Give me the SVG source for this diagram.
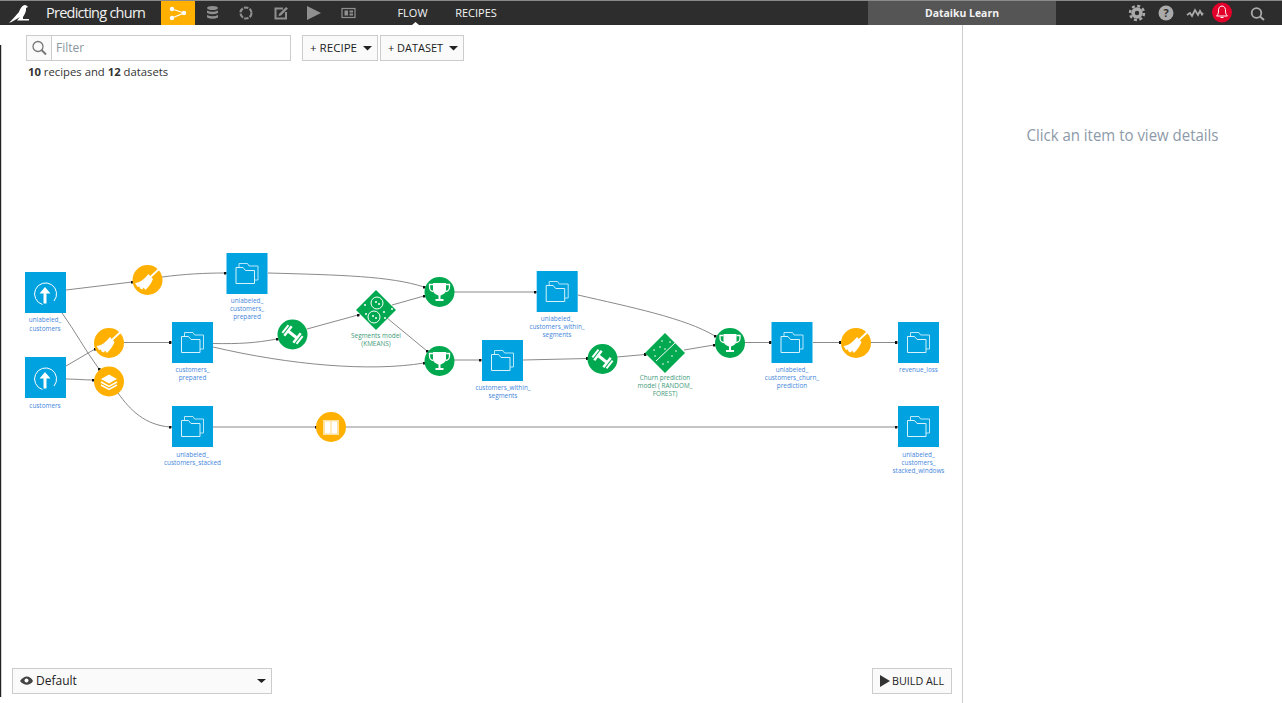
<svg xmlns="http://www.w3.org/2000/svg" width="1282" height="703" viewBox="0 0 1282 703">
<style>
text{font-family:"Open Sans","Noto Sans","Liberation Sans",sans-serif}
.lbl{font-size:6.4px;fill:#3f86dc;text-anchor:middle}
.mlbl{font-size:6.4px;fill:#3e9a78;text-anchor:middle}
.nav{font-size:11px;fill:#f4f4f4;text-anchor:middle}
.btn{fill:#fafafa;stroke:#ccc;stroke-width:1}
.btxt{font-size:11px;fill:#222}
.ic{fill:#8f8f8f}
.con{fill:none;stroke:#8a8a8a;stroke-width:1}
.sq{fill:#00a2df}
.ln{fill:none;stroke:#fff;stroke-width:1}
.wf{fill:#fff}
.ws{fill:none;stroke:#fff}
</style>
<defs>
<marker id="dot" viewBox="0 0 4 4" refX="2" refY="2" markerWidth="3" markerHeight="3" markerUnits="userSpaceOnUse"><rect width="4" height="4" rx="1" fill="#111"/></marker>
<g id="folder">
<rect width="41" height="41" class="sq"/>
<path class="ln" style="stroke:#b9e8fa" d="M12.500 14V10.500H21L22.500 13H31.500V27H28"/>
<path class="ln" style="stroke:#d7f2fc" d="M9.500 14.500H16.500L19 17.500H28V30.500H9.500Z"/>
</g>
<g id="upload">
<rect width="41" height="41" class="sq"/>
<path class="ln" d="M17.500 32.500A11 11 0 1 1 29 29"/>
<path class="wf" d="M20 15L25.500 21.500H21.500V31.500H18.500V21.500H14.500Z"/>
</g>
<g id="broom">
<circle r="15" fill="#ffb000"/>
<path class="wf" d="M-12.500 3C-8 3-3-1 1-6L5.500-1C4 3 1 7-2 10L-4 7.500-5 9.500-7.500 8.500-8 6.500-10 7Z"/>
<path class="ws" stroke-width="1.800" d="M3-3L12-11.500"/>
</g>
<g id="stack">
<circle r="15" fill="#ffb000"/>
<path class="wf" d="M0-7L8-2.500 0 2-8-2.500Z"/>
<path class="ws" stroke-width="1.500" d="M-8 0.500L0 5 8 0.500M-8 3.500L0 8 8 3.500"/>
</g>
<g id="trophy">
<circle r="15" fill="#00a94f"/>
<path class="wf" d="M-6.500-9H6.500V-2C6.500 1 3 3 1 3.500V7H4V9H-4V7H-1V3.500C-3 3-6.500 1-6.500-2Z"/>
<path class="ws" stroke-width="1.300" d="M-6.500-7.500H-10V-5C-10-2-8-.5-6-.5M6.500-7.500H10V-5C10-2 8-.5 6-.5"/>
</g>
<g id="train">
<circle r="15" fill="#00a94f"/>
<g transform="rotate(38)" class="wf">
<rect x="-6" y="-1.500" width="12" height="3"/>
<rect x="-10" y="-5" width="2" height="10"/><rect x="-7" y="-6" width="2.500" height="12"/>
<rect x="4.500" y="-6" width="2.500" height="12"/><rect x="8" y="-5" width="2" height="10"/>
</g>
</g>
</defs>

<rect width="1282" height="703" fill="#fff"/>
<rect x="0" y="45" width="1.200" height="652" fill="#222"/>

<g id="topbar">
<rect width="1282" height="25" fill="#2d2d2d"/>
<rect width="1282" height="1" fill="#8a8a8a"/>
<path d="M9 23C13 19 16 15 19 12C20 9 22 5 25 5C26.500 5 27 6 28 7L26 8C26.500 11 25 14 23 17V19H29V20.500H17L20 17C16 19 12 22 9 23Z" fill="#fff"/>
<text x="46" y="18" font-size="14.500" fill="#f2f2f2" textLength="100">Predicting churn</text>
<rect x="161" y="1" width="34" height="24" fill="#ffb000"/>
<path d="M172 9L184 13 172 18" fill="none" stroke="#fff" stroke-width="1.200"/>
<circle cx="172" cy="9" r="2.200" fill="#fff"/><circle cx="184" cy="13" r="2.200" fill="#fff"/><circle cx="172" cy="18" r="2.200" fill="#fff"/>
<g class="ic">
<ellipse cx="212.500" cy="8" rx="5.500" ry="2"/>
<path d="M207 10.500Q212.500 13 218 10.500V13Q212.500 15.500 207 13ZM207 15Q212.500 17.500 218 15V17.500Q212.500 20 207 17.500Z"/>
</g>
<circle cx="246" cy="13" r="5.500" fill="none" stroke="#8f8f8f" stroke-width="2.200" stroke-dasharray="4.500 1.300"/>
<path d="M274.500 7.500H283V9.500H276.500V17.500H285V12H287V19.500H274.500Z" class="ic"/>
<path d="M279 14L286 7 288 8.500 281 15.500 278.500 16Z" class="ic"/>
<path d="M307 6L321 13 307 20Z" class="ic"/>
<rect x="342" y="8.500" width="13" height="9" fill="none" stroke="#8f8f8f" stroke-width="1.200"/>
<path d="M344.500 10.500H348V15.500H344.500ZM349.500 10.500H353V12.500H349.500ZM349.500 13.500H353V15.500H349.500Z" class="ic"/>
<text x="412.500" y="17" class="nav">FLOW</text>
<text x="476" y="17" class="nav">RECIPES</text>
<path d="M412 25L415.500 22 419 25Z" fill="#fff"/>
<rect x="868" y="1" width="188" height="24" fill="#555"/>
<text x="962" y="17" font-size="11" font-weight="700" fill="#f2f2f2" text-anchor="middle" textLength="74" lengthAdjust="spacingAndGlyphs">Dataiku Learn</text>
<circle cx="1137" cy="13" r="4" fill="none" stroke="#aaa" stroke-width="3.500"/>
<circle cx="1137" cy="13" r="7" fill="none" stroke="#aaa" stroke-width="2.500" stroke-dasharray="3 2.500"/>
<circle cx="1166" cy="13" r="7.500" fill="#aaa"/>
<text x="1166" y="17" font-size="11" font-weight="700" fill="#2d2d2d" text-anchor="middle">?</text>
<path d="M1187 15L1190 13 1192 16 1195 10 1198 15 1200 11 1202 14.500 1203 13" fill="none" stroke="#aaa" stroke-width="1.800"/>
<circle cx="1222" cy="12.500" r="10" fill="#e3002b"/>
<path d="M1222 6C1219 6 1218.500 9 1218.500 11C1218.500 14 1217.500 15 1216.500 16H1227.500C1226.500 15 1225.500 14 1225.500 11C1225.500 9 1225 6 1222 6ZM1220.500 17.500H1223.500" fill="none" stroke="#fff" stroke-width="1"/>
<circle cx="1256.500" cy="13" r="4.800" fill="none" stroke="#aaa" stroke-width="1.800"/>
<path d="M1260 16.500L1264 20" stroke="#aaa" stroke-width="2"/>
</g>

<path d="M962.500 25V703" stroke="#ccc" stroke-width="1"/>
<text x="1122.500" y="141" font-size="16" fill="#8d9aa8" text-anchor="middle" textLength="192" lengthAdjust="spacingAndGlyphs">Click an item to view details</text>

<g id="toolbar">
<rect x="26.500" y="35.500" width="264" height="25" fill="#fff" stroke="#ccc"/>
<rect x="26.500" y="35.500" width="25" height="25" class="btn"/>
<circle cx="38" cy="46.500" r="5" fill="none" stroke="#777" stroke-width="1.300"/>
<path d="M41.500 50L46 54.500" stroke="#777" stroke-width="2"/>
<text x="56" y="52" font-size="12" fill="#8a96a0">Filter</text>
<rect x="302.500" y="35.500" width="75" height="25" class="btn"/>
<text x="310" y="52" class="btxt" textLength="47" lengthAdjust="spacingAndGlyphs">+ RECIPE</text>
<path d="M363 46H372L367.500 50.500Z" fill="#222"/>
<rect x="380.500" y="35.500" width="83" height="25" class="btn"/>
<text x="388" y="52" class="btxt" textLength="55" lengthAdjust="spacingAndGlyphs">+ DATASET</text>
<path d="M449 46H458L453.500 50.500Z" fill="#222"/>
<text x="28" y="76" font-size="11.300" fill="#333"><tspan font-weight="700">10</tspan> recipes and <tspan font-weight="700">12</tspan> datasets</text>
</g>

<g id="connectors" class="connectors">
<path class="con" marker-end="url(#dot)" d="M66 290L132 282"/>
<path class="con" marker-end="url(#dot)" d="M162 277C185 274 205 273 225 273"/>
<path class="con" marker-end="url(#dot)" d="M62 313C75 331 85 350 99 369"/>
<path class="con" marker-end="url(#dot)" d="M66 366L95 349"/>
<path class="con" marker-end="url(#dot)" d="M66 379C75 379 85 380 93 380"/>
<path class="con" marker-end="url(#dot)" d="M118 393C130 410 145 425 170 427"/>
<path class="con" marker-end="url(#dot)" d="M124 342.500H170"/>
<path class="con" marker-end="url(#dot)" d="M213 343.500C240 344 255 343 277 339"/>
<path class="con" marker-end="url(#dot)" d="M213 347C290 365 370 372 424 363"/>
<path class="con" marker-end="url(#dot)" d="M307 329L358 315"/>
<path class="con" marker-end="url(#dot)" d="M392 305L424 296"/>
<path class="con" marker-end="url(#dot)" d="M387 318L427 351"/>
<path class="con" marker-end="url(#dot)" d="M268 273C340 275 390 276 424 287"/>
<path class="con" marker-end="url(#dot)" d="M454 292H535"/>
<path class="con" marker-end="url(#dot)" d="M454 360H480"/>
<path class="con" marker-end="url(#dot)" d="M523 360L587 358.500"/>
<path class="con" marker-end="url(#dot)" d="M617 357L645 354.500"/>
<path class="con" marker-end="url(#dot)" d="M684 350L714 345"/>
<path class="con" marker-end="url(#dot)" d="M578 295C630 307 685 318 715 336"/>
<path class="con" marker-end="url(#dot)" d="M744 342.500H770"/>
<path class="con" marker-end="url(#dot)" d="M813 342.500H840"/>
<path class="con" marker-end="url(#dot)" d="M871 342.500H896"/>
<path class="con" marker-end="url(#dot)" d="M213 427H316"/>
<path class="con" marker-end="url(#dot)" d="M346 427H896"/>
</g>

<g id="n-unlabeled_customers"><use href="#upload" x="25" y="272"/><text class="lbl" x="45" y="322">unlabeled_</text><text class="lbl" x="45" y="331">customers</text></g>
<g id="n-customers"><use href="#upload" x="25" y="357"/><text class="lbl" x="45" y="408">customers</text></g>
<g id="n-unlabeled_customers_prepared"><use href="#folder" x="226.500" y="253"/><text class="lbl" x="247" y="303">unlabeled_</text><text class="lbl" x="247" y="311">customers_</text><text class="lbl" x="247" y="319">prepared</text></g>
<g id="n-customers_prepared"><use href="#folder" x="172" y="322"/><text class="lbl" x="192.500" y="372">customers_</text><text class="lbl" x="192.500" y="380">prepared</text></g>
<g id="n-unlabeled_customers_stacked"><use href="#folder" x="172" y="406"/><text class="lbl" x="192.500" y="457">unlabeled_</text><text class="lbl" x="192.500" y="465">customers_stacked</text></g>
<g id="n-unlabeled_customers_within_segments"><use href="#folder" x="536.700" y="271"/><text class="lbl" x="557" y="321">unlabeled_</text><text class="lbl" x="557" y="329">customers_within_</text><text class="lbl" x="557" y="337">segments</text></g>
<g id="n-customers_within_segments"><use href="#folder" x="482" y="340"/><text class="lbl" x="503" y="390">customers_within_</text><text class="lbl" x="503" y="398">segments</text></g>
<g id="n-unlabeled_customers_churn_prediction"><use href="#folder" x="771.500" y="322"/><text class="lbl" x="792" y="372">unlabeled_</text><text class="lbl" x="792" y="380">customers_churn_</text><text class="lbl" x="792" y="388">prediction</text></g>
<g id="n-revenue_loss"><use href="#folder" x="898" y="322"/><text class="lbl" x="918.500" y="372">revenue_loss</text></g>
<g id="n-unlabeled_customers_stacked_windows"><use href="#folder" x="898" y="406"/><text class="lbl" x="918.500" y="457">unlabeled_</text><text class="lbl" x="918.500" y="465">customers_</text><text class="lbl" x="918.500" y="473">stacked_windows</text></g>

<g id="r-clean1"><use href="#broom" x="147.500" y="280"/></g>
<g id="r-clean2"><use href="#broom" x="109" y="343"/></g>
<g id="r-stack"><use href="#stack" x="109" y="381.500"/></g>
<g id="r-train1"><use href="#train" x="292.500" y="334.500"/></g>
<g id="r-score1"><use href="#trophy" x="439.500" y="292"/></g>
<g id="r-score2"><use href="#trophy" x="439.500" y="361"/></g>
<g id="r-train2"><use href="#train" x="602.500" y="359"/></g>
<g id="r-score3"><use href="#trophy" x="730" y="343"/></g>
<g id="r-clean3"><use href="#broom" x="856" y="343"/></g>
<g id="r-window">
<circle cx="331" cy="427" r="15" fill="#ffb000"/>
<rect x="323" y="420" width="16" height="15" fill="#ffe2a0"/>
<rect x="325" y="421.500" width="5.300" height="12" fill="#fff"/><rect x="331.700" y="421.500" width="5.300" height="12" fill="#fff"/>
</g>

<g id="m-segments">
<path d="M376 290L396 310 376 330 356 310Z" fill="#00a94f"/>
<circle cx="377" cy="303" r="6" fill="none" stroke="#fff"/>
<circle cx="374" cy="317" r="6" fill="none" stroke="#fff"/>
<g fill="#fff"><circle cx="376" cy="302" r="1"/><circle cx="379" cy="304" r="1"/><circle cx="373" cy="316" r="1"/><circle cx="376" cy="318" r="1"/><circle cx="365" cy="305" r="1"/><circle cx="366" cy="314" r="1"/><circle cx="384" cy="312" r="1"/><circle cx="392" cy="309" r="1"/><circle cx="385" cy="318" r="1"/></g>
<text class="mlbl" x="376" y="338">Segments model</text><text class="mlbl" x="376" y="346">(KMEANS)</text>
</g>
<g id="m-churn">
<path d="M665 333L685 353 665 373 645 353Z" fill="#00a94f"/>
<path d="M656 361L676 342" stroke="#fff" stroke-width="1"/>
<g fill="#fff"><circle cx="662" cy="341" r=".8"/><circle cx="670" cy="342" r=".8"/><circle cx="654" cy="350" r=".8"/><circle cx="660" cy="347" r=".8"/><circle cx="665" cy="349" r=".8"/><circle cx="655" cy="356" r=".8"/><circle cx="672" cy="356" r=".8"/><circle cx="668" cy="362" r=".8"/><circle cx="676" cy="351" r=".8"/><circle cx="663" cy="364" r=".8"/></g>
<text class="mlbl" x="665" y="380">Churn prediction</text><text class="mlbl" x="665" y="388">model ( RANDOM_</text><text class="mlbl" x="665" y="396">FOREST)</text>
</g>

<g id="bottom">
<rect x="12.500" y="668.500" width="259" height="25" class="btn"/>
<path d="M20 681C24 675 30 675 33 681C30 686 24 686 20 681Z" fill="#444"/>
<circle cx="26.500" cy="680.500" r="2" fill="#fff"/>
<text x="36" y="685" font-size="12" fill="#222">Default</text>
<path d="M257 679H266L261.500 683Z" fill="#222"/>
<rect x="872.500" y="668.500" width="79" height="25" class="btn"/>
<path d="M880 675L890 681 880 687Z" fill="#333"/>
<text x="892" y="685" font-size="11" fill="#222" textLength="52" lengthAdjust="spacingAndGlyphs">BUILD ALL</text>
</g>
</svg>
